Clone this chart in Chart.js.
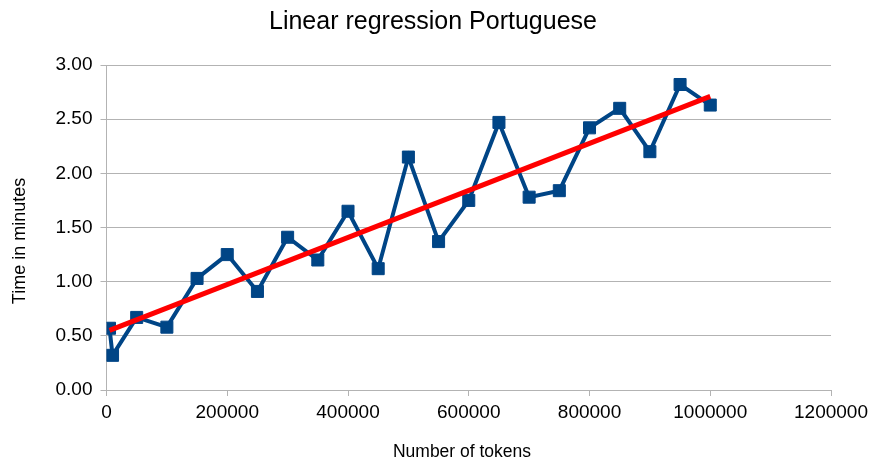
<!DOCTYPE html>
<html>
<head>
<meta charset="utf-8">
<script src="https://cdn.jsdelivr.net/npm/chart.js@4/dist/chart.umd.min.js"></script>
<style>
  html, body { margin: 0; padding: 0; background: #ffffff; }
  #wrap { width: 873px; height: 466px; position: relative; }
</style>
</head>
<body>
<div id="wrap"><canvas id="chart"></canvas></div>
<script>
// Measured run times (minutes) for increasing corpus sizes (tokens)
const tokens = [5000, 10000, 50000, 100000, 150000, 200000, 250000, 300000, 350000, 400000,
                450000, 500000, 550000, 600000, 650000, 700000, 750000, 800000, 850000, 900000,
                950000, 1000000];
const minutes = [0.57, 0.32, 0.67, 0.58, 1.03, 1.25, 0.91, 1.41, 1.20, 1.65,
                 1.12, 2.15, 1.37, 1.75, 2.47, 1.78, 1.84, 2.42, 2.60, 2.20,
                 2.82, 2.63];
// Fitted regression line end points
const fitTokens = [5000, 1000000];
const fitMinutes = [0.55, 2.71];
// Axis ticks
const xTicks = [0, 200000, 400000, 600000, 800000, 1000000, 1200000];
const yTicks = [0, 0.5, 1.0, 1.5, 2.0, 2.5, 3.0];
// Titles
const chartTitle = 'Linear regression Portuguese';
const xTitle = 'Number of tokens';
const yTitle = 'Time in minutes';

const FONT = "'Liberation Sans', Arial, sans-serif";
const GRID = '#b3b3b3';

const measured = tokens.map((t, i) => ({ x: t, y: minutes[i] }));
const fitted = fitTokens.map((t, i) => ({ x: t, y: fitMinutes[i] }));

// Draws the chart title and both axis titles at fixed spots on the canvas
const titlesPlugin = {
  id: 'titles',
  afterDraw(chart) {
    const ctx = chart.ctx;
    ctx.save();
    ctx.fillStyle = '#000000';
    ctx.textAlign = 'center';
    ctx.textBaseline = 'middle';
    ctx.font = '25px ' + FONT;
    ctx.fillText(chartTitle, 433, 22);
    ctx.font = '17.5px ' + FONT;
    ctx.fillText(xTitle, 462, 452);
    ctx.translate(20, 241);
    ctx.rotate(-Math.PI / 2);
    ctx.font = '18px ' + FONT;
    ctx.fillText(yTitle, 0, 0);
    ctx.restore();
  }
};

new Chart(document.getElementById('chart'), {
  type: 'scatter',
  data: {
    datasets: [
      {
        label: 'Time',
        data: measured,
        showLine: true,
        borderColor: '#004586',
        backgroundColor: '#004586',
        borderWidth: 4,
        pointStyle: 'rect',
        pointRadius: 8.5,
        pointHoverRadius: 8.5,
        pointBorderWidth: 1,
        pointBorderColor: '#004586',
        order: 2
      },
      {
        label: 'Linear regression',
        data: fitted,
        showLine: true,
        borderColor: '#ff0000',
        backgroundColor: '#ff0000',
        borderWidth: 5,
        pointRadius: 0,
        pointHoverRadius: 0,
        order: 1
      }
    ]
  },
  plugins: [titlesPlugin],
  options: {
    responsive: true,
    maintainAspectRatio: false,
    animation: false,
    events: [],
    layout: { padding: { left: 0, right: 41, top: 65, bottom: 0 } },
    plugins: {
      legend: { display: false },
      tooltip: { enabled: false },
      title: { display: false }
    },
    scales: {
      x: {
        type: 'linear',
        min: 0,
        max: 1200000,
        afterBuildTicks: (s) => { s.ticks = xTicks.map(v => ({ value: v })); },
        afterFit: (s) => { s.height = 76; },
        ticks: {
          color: '#000000',
          font: { family: FONT, size: 19 },
          padding: 5,
          maxRotation: 0,
          callback: (v) => String(v)
        },
        grid: {
          drawOnChartArea: false,
          drawTicks: true,
          tickLength: 6,
          color: GRID
        },
        border: { display: true, color: GRID, width: 1 }
      },
      y: {
        type: 'linear',
        min: 0,
        max: 3,
        afterBuildTicks: (s) => { s.ticks = yTicks.map(v => ({ value: v })); },
        afterFit: (s) => { s.width = 106.5; },
        ticks: {
          color: '#000000',
          font: { family: FONT, size: 19 },
          padding: 8,
          callback: (v) => Number(v).toFixed(2)
        },
        grid: {
          drawTicks: true,
          tickLength: 6,
          color: GRID,
          lineWidth: 1
        },
        border: { display: true, color: GRID, width: 1 }
      }
    }
  }
});
</script>
</body>
</html>
